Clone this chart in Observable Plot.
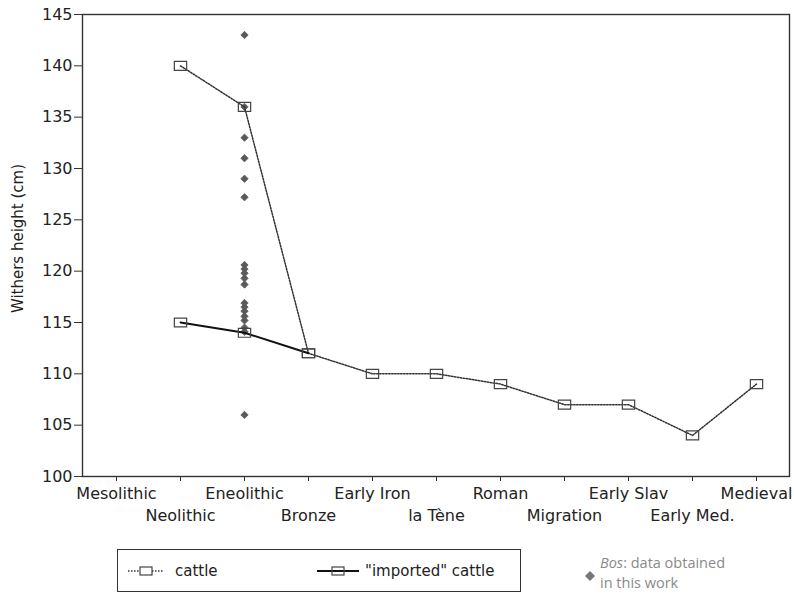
<!DOCTYPE html>
<html>
<head>
<meta charset="utf-8">
<script src="https://cdn.jsdelivr.net/npm/d3@7"></script>
<script src="https://cdn.jsdelivr.net/npm/@observablehq/plot@0.6"></script>
<style>
  html, body { margin: 0; padding: 0; background: #fff; }
  #wrap { position: relative; width: 794px; height: 612px; font-family: "DejaVu Sans", sans-serif; }
  #legend { position: absolute; left: 117px; top: 549px; width: 402px; height: 41px; border: 1.5px solid #333; box-sizing: content-box; }
  .item { position: absolute; top: 12px; font-size: 15px; color: #222; display: flex; align-items: center; white-space: nowrap; }
  #bos { position: absolute; left: 584px; top: 553px; font-family: "Open Sans", sans-serif; font-size: 14.5px; line-height: 20px; color: #8a8a8a; white-space: nowrap; }
  #bos svg { position: absolute; left: 1px; top: 18px; }
  #bos .t { margin-left: 16px; }
</style>
</head>
<body>
<div id="wrap"></div>
<script>
const periods = ["Mesolithic","Neolithic","Eneolithic","Bronze","Early Iron","la Tène","Roman","Migration","Early Slav","Early Med.","Medieval"];
const cattlePeriods = ["Neolithic","Eneolithic","Bronze","Early Iron","la Tène","Roman","Migration","Early Slav","Early Med.","Medieval"];
const cattleHeight = [140,136,112,110,110,109,107,107,104,109];
const importedPeriods = ["Neolithic","Eneolithic","Bronze"];
const importedHeight = [115,114,112];
const bosPeriod = "Eneolithic";
const bosHeight = [143,136,133,131,129,127.2,120.6,120.2,119.8,119.3,118.7,116.9,116.5,116.1,115.6,115.2,114.5,114.1,106];
const yTicks = [100,105,110,115,120,125,130,135,140,145];
const yLabel = "Withers height (cm)";

const cattle = cattlePeriods.map((p, i) => ({period: p, h: cattleHeight[i]}));
const imported = importedPeriods.map((p, i) => ({period: p, h: importedHeight[i]}));
const bos = bosHeight.map(h => ({period: bosPeriod, h}));

const rectSymbol = {
  draw(ctx, size) {
    const s = Math.sqrt(size);
    const w = s * 0.62, h = s * 0.45;
    ctx.moveTo(-w, -h); ctx.lineTo(w, -h); ctx.lineTo(w, h); ctx.lineTo(-w, h); ctx.closePath();
  }
};

const idx = d => periods.indexOf(d);

const chart = Plot.plot({
  width: 794,
  height: 535,
  marginLeft: 82,
  marginRight: 5,
  marginTop: 14,
  marginBottom: 59,
  style: {fontFamily: "DejaVu Sans, sans-serif", fontSize: "16px", color: "#222", background: "#fff"},
  x: {type: "point", domain: periods, padding: 0.5, axis: null},
  y: {domain: [100, 145], axis: null},
  marks: [
    Plot.frame({stroke: "#333", strokeWidth: 1.4}),
    Plot.axisY({ticks: yTicks, tickSize: 8, tickPadding: 2, stroke: "#333", label: null}),
    Plot.axisX({ticks: periods, tickSize: 5, tickPadding: 6, stroke: "#333", label: null,
      tickFormat: d => idx(d) % 2 === 0 ? d : ""}),
    Plot.axisX({ticks: periods, tickSize: 0, tickPadding: 33, label: null,
      tickFormat: d => idx(d) % 2 === 1 ? d : ""}),
    Plot.text([yLabel], {frameAnchor: "left", text: d => d, rotate: -90, textAnchor: "middle", dx: -64, dy: -7, fontSize: 15, fill: "#222"}),
    Plot.dot(bos, {x: "period", y: "h", symbol: "diamond2", r: 3.3, fill: "#5a5a5a", stroke: "#5a5a5a", strokeWidth: 0.8}),
    Plot.line(cattle, {x: "period", y: "h", stroke: "#333", strokeWidth: 1.5, strokeDasharray: "1.5,1.5"}),
    Plot.line(imported, {x: "period", y: "h", stroke: "#111", strokeWidth: 2}),
    Plot.dot(cattle, {x: "period", y: "h", symbol: rectSymbol, r: 5.6, stroke: "#444", strokeWidth: 1.2, fill: "none"}),
    Plot.dot(imported, {x: "period", y: "h", symbol: rectSymbol, r: 5.6, stroke: "#444", strokeWidth: 1.2, fill: "none"})
  ]
});

const wrap = document.getElementById("wrap");
wrap.appendChild(chart);

const legend = document.createElement("div");
legend.id = "legend";
legend.innerHTML = `
  <div class="item" style="left:10px">
    <svg width="36" height="14" style="margin-right:11px"><line x1="0" y1="7" x2="36" y2="7" stroke="#333" stroke-width="1.4" stroke-dasharray="1.5,1.5"/><rect x="12" y="3" width="12" height="8" fill="#fff" stroke="#444" stroke-width="1.2"/></svg>cattle</div>
  <div class="item" style="left:199px">
    <svg width="42" height="14" style="margin-right:6px"><line x1="0" y1="7" x2="42" y2="7" stroke="#111" stroke-width="2"/><rect x="15" y="3" width="12" height="8" fill="none" stroke="#444" stroke-width="1.2"/></svg>"imported" cattle</div>`;
wrap.appendChild(legend);

const bosLeg = document.createElement("div");
bosLeg.id = "bos";
bosLeg.innerHTML = `<svg width="10" height="10"><path d="M5,0L10,5L5,10L0,5Z" fill="#777"/></svg>
  <div class="t"><i>Bos</i>: data obtained<br>in this work</div>`;
wrap.appendChild(bosLeg);
</script>
</body>
</html>
